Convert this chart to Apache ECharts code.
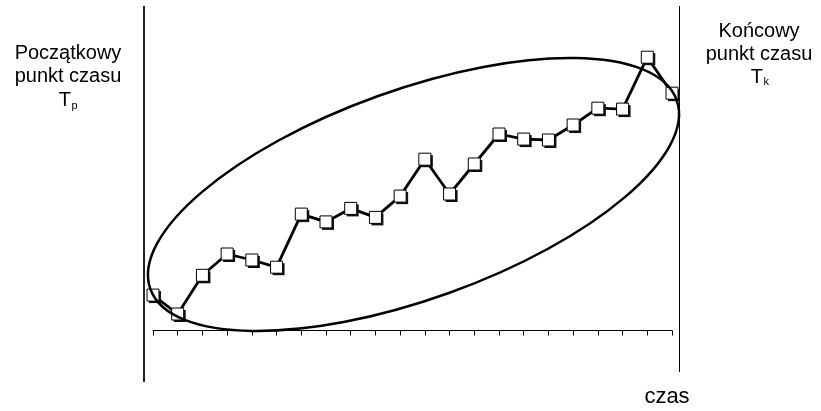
<!DOCTYPE html>
<html>
<head>
<meta charset="utf-8">
<script src="https://cdn.jsdelivr.net/npm/echarts@6/dist/echarts.min.js"></script>
<style>html,body{margin:0;padding:0;background:#fff;}#c{width:821px;height:411px;}</style>
</head>
<body>
<div id="c"></div>
<script>
var categories = ['1','2','3','4','5','6','7','8','9','10','11','12','13','14','15','16','17','18','19','20','21','22'];
var values = [11.8, 5.5, 18.4, 25.5, 23.5, 21.1, 38.8, 36.2, 40.7, 37.7, 44.8, 57.1, 45.5, 55.5, 65.5, 63.8, 63.5, 68.5, 74.1, 73.8, 91.1, 79.1];
var leftLabel = ['Początkowy', 'punkt czasu'];
var rightLabel = ['Końcowy', 'punkt czasu'];
var axisName = 'czas';

var FONT = 'Liberation Sans, Arial, sans-serif';
var chart = echarts.init(document.getElementById('c'));

function txt(text, x, y, size, align) {
  return {type: 'text', x: x, y: y, z: 50,
    style: {text: text, fontSize: size, fontFamily: FONT, fill: '#000', align: align || 'center', verticalAlign: 'middle'}};
}

chart.setOption({
  animation: false,
  grid: {left: 153, right: 149, top: 30.5, bottom: 80.5},
  xAxis: {
    type: 'category', data: categories, boundaryGap: false,
    axisLine: {lineStyle: {color: '#000', width: 1}},
    axisTick: {show: true, interval: 0, length: 5, lineStyle: {color: '#000'}},
    axisLabel: {show: false}, splitLine: {show: false}
  },
  yAxis: {type: 'value', min: 0, max: 100, show: false},
  series: [{
    type: 'line', data: values, z: 1,
    showSymbol: false, symbol: 'none',
    lineStyle: {color: '#000', width: 2.8}
  }, {
    type: 'scatter', data: values, z: 2,
    symbol: 'rect', symbolSize: 12, symbolOffset: [2, 2],
    itemStyle: {color: '#111', opacity: 1}
  }, {
    type: 'scatter', data: values, z: 3,
    symbol: 'rect', symbolSize: 12,
    itemStyle: {color: '#fff', borderColor: '#000', borderWidth: 1, opacity: 1}
  }],
  graphic: [
    {type: 'line', shape: {x1: 144, y1: 6, x2: 144, y2: 382}, style: {stroke: '#222', lineWidth: 2}},
    {type: 'line', shape: {x1: 679.5, y1: 6, x2: 679.5, y2: 372}, style: {stroke: '#000', lineWidth: 1}},
    {type: 'ellipse', x: 413.5, y: 194.5, rotation: 0.3447, z: 100,
      shape: {cx: 0, cy: 0, rx: 279.6, ry: 104.7},
      style: {fill: 'none', stroke: '#000', lineWidth: 2.5}},
    txt(leftLabel[0], 68, 53, 20),
    txt(leftLabel[1], 68, 76.5, 20),
    txt('T', 71, 100, 20, 'right'),
    txt('p', 71.5, 106, 11, 'left'),
    txt(rightLabel[0], 759, 31, 20),
    txt(rightLabel[1], 759, 54.5, 20),
    txt('T', 763, 77, 20, 'right'),
    txt('k', 763.5, 82, 11, 'left'),
    txt(axisName, 667, 397, 22)
  ]
});
</script>
</body>
</html>
